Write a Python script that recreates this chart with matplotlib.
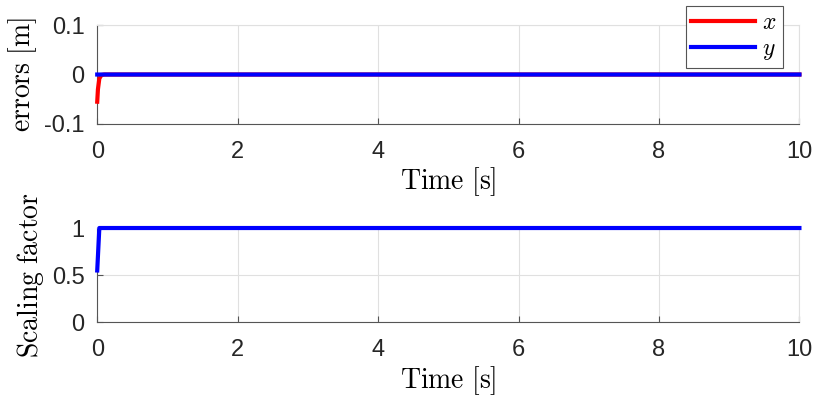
import matplotlib.pyplot as plt

plt.rcParams['font.family'] = ['Liberation Sans', 'DejaVu Sans']
plt.rcParams['mathtext.fontset'] = 'cm'

# error signals
t_err = [0, 0.01, 0.03, 0.06, 0.1, 10]
err_x = [-0.055, -0.03, -0.008, -0.001, 0, 0]
err_y = [0, 0, 0, 0, 0, 0]

# scaling factor
t_scale = [0, 0.03, 0.06, 10]
scale = [0.55, 1.0, 1.0, 1.0]

xticks = [0, 2, 4, 6, 8, 10]

fig = plt.figure(figsize=(8.31, 4.05), dpi=100)
ax1 = fig.add_axes([0.117, 0.694, 0.845, 0.244])
ax2 = fig.add_axes([0.117, 0.204, 0.845, 0.233])

ax1.plot(t_err, err_x, color='red', lw=3, label=r'$x$', snap=False, clip_on=False, zorder=3)
ax1.plot(t_err, err_y, color='blue', lw=3, label=r'$y$', snap=False, clip_on=False, zorder=3)
ax1.set_ylim(-0.1, 0.1)
ax1.set_yticks([-0.1, 0, 0.1])
ax1.set_yticklabels(['-0.1', '0', '0.1'])
ax1.set_ylabel(r'$\mathrm{errors\ [m]}$', fontsize=20, labelpad=4)
leg = ax1.legend(loc='upper right', bbox_to_anchor=(0.976, 1.19), fontsize=17,
                 fancybox=False, edgecolor='#555555', framealpha=1,
                 handlelength=2.7, handletextpad=0.3, borderpad=0.25,
                 labelspacing=0.15, borderaxespad=0)
leg.get_frame().set_linewidth(0.8)
leg.set_zorder(5)

ax2.plot(t_scale, scale, color='blue', lw=3, snap=False, clip_on=False, zorder=3)
ax2.set_ylim(0, 1)
ax2.set_yticks([0, 0.5, 1])
ax2.set_yticklabels(['0', '0.5', '1'])
ax2.set_ylabel(r'$\mathrm{Scaling\ factor}$', fontsize=20, labelpad=4)

for ax in (ax1, ax2):
    ax.set_xlim(0, 10)
    ax.set_xticks(xticks)
    ax.set_xlabel(r'$\mathrm{Time\ [s]}$', fontsize=20, labelpad=2)
    ax.grid(True, color='#e0e0e0', lw=0.8)
    ax.set_axisbelow(True)
    for s in ('top', 'right'):
        ax.spines[s].set_color('#e0e0e0')
        ax.spines[s].set_linewidth(0.8)
    for s in ('left', 'bottom'):
        ax.spines[s].set_color('#555555')
        ax.spines[s].set_linewidth(0.8)
    ax.tick_params(direction='in', length=4, width=0.8, color='#555555',
                   labelsize=17, labelcolor='#262626')
    ax.tick_params(axis='x', pad=12)
    ax.tick_params(axis='y', pad=9)

fig.savefig('out.png', dpi=100)
